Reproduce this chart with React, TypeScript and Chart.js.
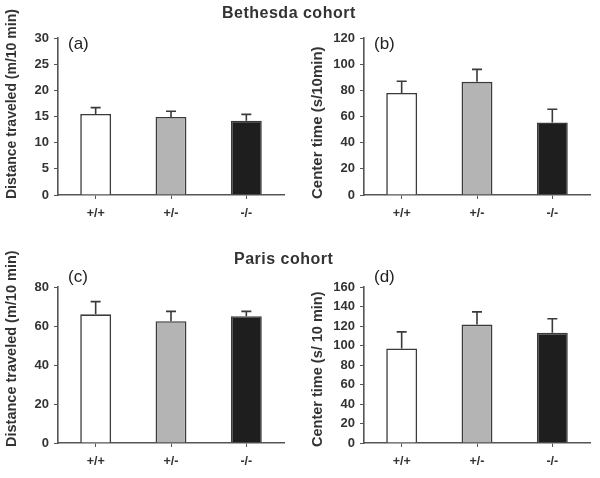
import React, { useEffect, useRef } from "react";
import { Chart, registerables } from "chart.js";
Chart.register(...registerables);

const categories = ["+/+", "+/-", "-/-"];
const distBethesda = [15.5, 14.9, 14.2];
const distBethesdaErr = [1.2, 1.1, 1.2];
const centerBethesda = [78, 86.5, 55.5];
const centerBethesdaErr = [9, 9.5, 10];
const distParis = [66, 62.5, 65];
const distParisErr = [6.5, 5, 2.5];
const centerParis = [97, 121.5, 113];
const centerParisErr = [17, 13, 14.5];
const barColors = ["#ffffff", "#b4b4b4", "#1e1e1e"];

const FONT = "'Liberation Sans', Arial, sans-serif";
const INK = "#333333";
const AXIS = "#555555";

type Panel = {
  key: string;
  label: string;
  values: number[];
  errors: number[];
  yMax: number;
  yStep: number;
  yTitle: string;
  left: number;
  top: number;
  width: number;
  height: number;
  yWidth: number;
  padTop: number;
  padRight: number;
  xHeight: number;
  labelTop: number;
  titleX: number;
  titleSize: number;
};

const panels: Panel[] = [
  { key: "a", label: "(a)", values: distBethesda, errors: distBethesdaErr, yMax: 30, yStep: 5,
    yTitle: "Distance traveled (m/10 min)", left: 0, top: 0, width: 300, height: 230,
    yWidth: 58, padTop: 38, padRight: 16, xHeight: 35, labelTop: 36, titleX: 12, titleSize: 14 },
  { key: "b", label: "(b)", values: centerBethesda, errors: centerBethesdaErr, yMax: 120, yStep: 20,
    yTitle: "Center time (s/10min)", left: 300, top: 0, width: 300, height: 230,
    yWidth: 64, padTop: 38, padRight: 10, xHeight: 35, labelTop: 36, titleX: 18, titleSize: 15 },
  { key: "c", label: "(c)", values: distParis, errors: distParisErr, yMax: 80, yStep: 20,
    yTitle: "Distance traveled (m/10 min)", left: 0, top: 240, width: 300, height: 238,
    yWidth: 58, padTop: 47, padRight: 16, xHeight: 35, labelTop: 29, titleX: 12, titleSize: 14.5 },
  { key: "d", label: "(d)", values: centerParis, errors: centerParisErr, yMax: 160, yStep: 20,
    yTitle: "Center time (s/ 10 min)", left: 300, top: 240, width: 300, height: 238,
    yWidth: 64, padTop: 47, padRight: 10, xHeight: 35, labelTop: 29, titleX: 18, titleSize: 14.5 },
];

const errorBarPlugin = {
  id: "errorBars",
  afterDatasetsDraw(chart: any, _args: any, opts: any) {
    const errs: number[] = opts.errors || [];
    const meta = chart.getDatasetMeta(0);
    const ctx = chart.ctx;
    const yScale = chart.scales.y;
    const data = chart.data.datasets[0].data as number[];
    ctx.save();
    ctx.strokeStyle = "#3a3a3a";
    ctx.lineWidth = 1.6;
    meta.data.forEach((bar: any, i: number) => {
      const yTop = yScale.getPixelForValue(data[i] + errs[i]);
      const yBar = yScale.getPixelForValue(data[i]);
      const x = bar.x;
      ctx.beginPath();
      ctx.moveTo(x, yBar);
      ctx.lineTo(x, yTop);
      ctx.moveTo(x - 5, yTop);
      ctx.lineTo(x + 5, yTop);
      ctx.stroke();
    });
    ctx.restore();
  },
};

const panelTextPlugin = {
  id: "panelText",
  afterDraw(chart: any, _args: any, opts: any) {
    const ctx = chart.ctx;
    const area = chart.chartArea;
    ctx.save();
    ctx.font = `17px ${FONT}`;
    ctx.fillStyle = "#222222";
    ctx.textBaseline = "top";
    ctx.textAlign = "left";
    ctx.fillText(opts.text, area.left + 10, opts.top);
    ctx.restore();

    ctx.save();
    ctx.translate(opts.titleX, area.bottom + 4);
    ctx.rotate(-Math.PI / 2);
    ctx.font = `bold ${opts.titleSize}px ${FONT}`;
    ctx.fillStyle = INK;
    ctx.textBaseline = "middle";
    ctx.textAlign = "left";
    ctx.fillText(opts.yTitle, 0, 0);
    ctx.restore();
  },
};

function PanelChart({ p }: { p: Panel }) {
  const ref = useRef<HTMLCanvasElement | null>(null);
  useEffect(() => {
    if (!ref.current) return;
    const chart = new Chart(ref.current, {
      type: "bar",
      data: {
        labels: categories,
        datasets: [
          {
            data: p.values,
            backgroundColor: barColors,
            borderColor: "#3a3a3a",
            borderWidth: 1.6,
            borderSkipped: "bottom",
            barPercentage: 0.41,
            categoryPercentage: 1,
          },
        ],
      },
      options: {
        responsive: false,
        animation: false,
        devicePixelRatio: 1,
        layout: { padding: { top: p.padTop, right: p.padRight, left: 0, bottom: 0 } },
        plugins: {
          legend: { display: false },
          tooltip: { enabled: false },
          title: { display: false },
          errorBars: { errors: p.errors },
          panelText: { text: p.label, top: p.labelTop, titleX: p.titleX, titleSize: p.titleSize, yTitle: p.yTitle },
        } as any,
        scales: {
          x: {
            grid: { display: true, drawOnChartArea: false, offset: false, tickLength: 4, color: AXIS, lineWidth: 1 },
            border: { display: true, color: AXIS, width: 1.6 },
            ticks: { color: INK, font: { family: FONT, size: 12.5, weight: "bold" }, padding: 7 },
            afterFit: (s: any) => { s.height = p.xHeight; },
          },
          y: {
            min: 0,
            max: p.yMax,
            grid: { display: true, drawOnChartArea: false, tickLength: 4, color: AXIS, lineWidth: 1 },
            border: { display: true, color: AXIS, width: 1.6 },
            ticks: { stepSize: p.yStep, color: INK, font: { family: FONT, size: 13, weight: "bold" }, padding: 5 },
            title: { display: false },
            afterFit: (s: any) => { s.width = p.yWidth; },
          },
        },
      } as any,
      plugins: [errorBarPlugin, panelTextPlugin],
    });
    return () => chart.destroy();
  }, [p]);
  return (
    <div style={{ position: "absolute", left: p.left, top: p.top, width: p.width, height: p.height }}>
      <canvas ref={ref} width={p.width} height={p.height} style={{ width: p.width, height: p.height }} />
    </div>
  );
}

export default function App() {
  const titleStyle: React.CSSProperties = {
    position: "absolute",
    fontFamily: FONT,
    fontWeight: "bold",
    fontSize: 16,
    letterSpacing: 0.5,
    color: INK,
    whiteSpace: "nowrap",
    lineHeight: "18px",
  };
  return (
    <div style={{ position: "absolute", left: 0, top: 0, width: 600, height: 478, background: "#ffffff", overflow: "hidden" }}>
      {panels.map((p) => (
        <PanelChart key={p.key} p={p} />
      ))}
      <div style={{ ...titleStyle, left: 222, top: 4 }}>Bethesda cohort</div>
      <div style={{ ...titleStyle, left: 234, top: 250 }}>Paris cohort</div>
    </div>
  );
}
